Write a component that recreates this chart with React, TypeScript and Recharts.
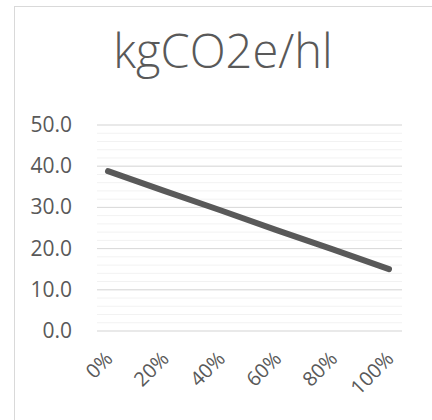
import React from 'react'
import { LineChart, Line, XAxis, YAxis, CartesianGrid, ReferenceLine } from 'recharts'

const categories = ['0%', '20%', '40%', '60%', '80%', '100%']
const values = [38.8, 34.0, 29.3, 24.5, 19.8, 15.0]
const minorTicks = [0, 2, 4, 6, 8, 10, 12, 14, 16, 18, 20, 22, 24, 26, 28, 30, 32, 34, 36, 38, 40, 42, 44, 46, 48, 50]
const majorTicks = [0, 10, 20, 30, 40, 50]

const data = categories.map((c, i) => ({ name: c, value: values[i] }))

const FONT = '"Open Sans", sans-serif'
const GREY = '#595959'

function YTick({ x, y, payload }: any) {
  if (!majorTicks.includes(payload.value)) return null
  return (
    <text x={x - 17} y={y} dy={7} textAnchor="end" fill={GREY} fontSize={21} fontFamily={FONT}>
      {payload.value.toFixed(1)}
    </text>
  )
}

function XTick({ x, y, payload }: any) {
  return (
    <text
      transform={`translate(${x + 6},${y + 21}) rotate(-45)`}
      textAnchor="end"
      fill={GREY}
      fontSize={20}
      fontFamily={FONT}
    >
      {payload.value}
    </text>
  )
}

export default function App() {
  return (
    <div style={{ position: 'absolute', left: 0, top: 0, width: 432, height: 420, overflow: 'hidden', background: '#fff' }}>
      <div style={{ position: 'absolute', left: 14, top: 6, width: 460, height: 460, borderLeft: '1px solid #d9d9d9', borderTop: '1px solid #d9d9d9' }} />
      <svg width={432} height={100} style={{ position: 'absolute', left: 0, top: 0 }}>
        <text x={223} y={68} textAnchor="middle" fill={GREY} fontSize={47} fontWeight={300} fontFamily={FONT}>
          kgCO2e/hl
        </text>
      </svg>
      <div style={{ position: 'absolute', left: 0, top: 0 }}>
        <LineChart width={432} height={420} data={data} margin={{ top: 125, right: 30, bottom: 59, left: 0 }}>
          <CartesianGrid vertical={false} stroke="#f2f2f2" strokeWidth={1} />
          {majorTicks.map(t => (
            <ReferenceLine key={t} y={t} stroke="#d9d9d9" strokeWidth={1} />
          ))}
          <XAxis
            dataKey="name"
            height={30}
            axisLine={false}
            tickLine={false}
            padding={{ left: 11, right: 13 }}
            tick={<XTick />}
            interval={0}
          />
          <YAxis
            width={97}
            domain={[0, 50]}
            ticks={minorTicks}
            interval={0}
            axisLine={false}
            tickLine={false}
            tick={<YTick />}
          />
          <Line
            type="linear"
            dataKey="value"
            stroke={GREY}
            strokeWidth={6}
            strokeLinecap="round"
            dot={false}
            isAnimationActive={false}
          />
        </LineChart>
      </div>
    </div>
  )
}
